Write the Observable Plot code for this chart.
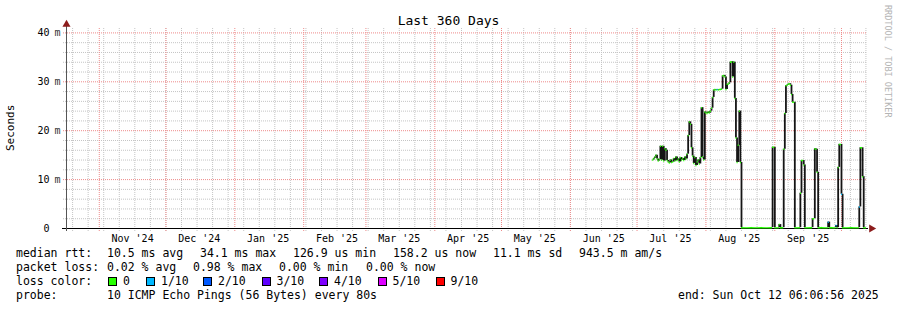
<!DOCTYPE html>
<html>
<head>
<meta charset="utf-8">
<script src="https://cdn.jsdelivr.net/npm/d3@7"></script>
<script src="https://cdn.jsdelivr.net/npm/@observablehq/plot@0.6"></script>
<style>
  html, body { margin: 0; padding: 0; background: #fff; }
  #wrap { position: relative; width: 897px; height: 310px; overflow: hidden;
          font-family: "DejaVu Sans Mono", monospace; color: #000; }
  #chart { position: absolute; left: 0; top: 0; }
  .t { position: absolute; white-space: pre; font-size: 11.5px; line-height: 11.5px; }
  .title { position: absolute; left: 0; width: 897px; text-align: center; font-size: 13px; line-height: 13px; white-space: pre; }
  .ylab { position: absolute; font-size: 11px; line-height: 11px; white-space: pre; transform-origin: 0 0; }
  .rrd { position: absolute; font-size: 8.5px; line-height: 8.5px; color: #b4b4b4; white-space: pre; transform-origin: 0 0; }
  .sw { position: absolute; width: 9px; height: 9px; box-sizing: border-box; border: 1px solid #000; }
</style>
</head>
<body>
<div id="wrap"><div id="chart"></div></div>
<script>
// ---------- data ----------
const titleText = "Last 360 Days";
const yLabel = "Seconds";
const sideText = "RRDTOOL / TOBI OETIKER";
const endTime = new Date("2025-10-12T06:06:56Z");
const spanDays = 360;
const seriesStart = "2025-07-08T00:00:00Z";
const stepHours = 12;

// median RTT in milliseconds, one value per 12 h step from seriesStart
const medianMs = [
  14.0,14.3,14.6,15.0,14.2,13.8,14.1,16.8,14.0,16.8,
  13.8,16.3,16.0,13.9,13.6,13.4,14.0,13.5,13.6,14.3,
  13.8,14.6,13.9,14.2,13.6,14.5,14.0,14.3,13.9,14.6,
  14.2,15.2,19.0,21.8,21.3,16.5,14.8,13.3,14.5,12.9,
  13.6,14.0,13.2,14.5,24.7,14.6,14.0,23.8,23.6,23.5,
  23.8,23.6,24.0,24.6,26.8,28.3,28.4,28.3,28.4,28.3,
  28.4,28.4,28.5,31.2,31.3,31.0,28.4,29.5,29.5,29.8,
  34.0,34.1,31.0,34.0,26.6,18.5,13.5,17.0,24.0,13.5,
  0.16,0.15,0.16,0.17,0.16,0.15,0.16,0.16,0.17,0.16,
  0.16,0.15,0.16,0.16,0.17,0.16,0.15,0.16,0.16,0.16,
  0.16,0.17,0.16,0.15,0.16,0.16,0.16,0.16,16.6,16.6,
  0.16,0.16,0.15,0.16,0.8,0.16,0.16,0.16,16.2,23.5,
  29.2,29.3,29.5,29.6,29.3,27.4,25.8,25.8,0.16,0.16,
  0.15,0.16,0.16,7.2,13.9,13.9,13.0,0.16,0.16,0.17,
  0.16,0.16,0.15,0.16,2.0,2.0,16.3,16.2,11.5,0.16,
  0.16,0.16,0.17,0.16,0.15,0.16,0.16,0.16,1.3,0.16,
  0.16,0.16,0.15,0.16,0.16,0.6,0.16,12.5,17.2,17.2,
  7.0,0.16,0.16,0.16,0.17,0.16,0.15,0.16,0.16,0.16,
  0.16,0.16,0.17,0.16,0.16,0.16,4.4,16.5,16.5,10.6,
  0.16,0.16,0.16
];
// steps with packet loss (index into medianMs, loss in tenths)
const lossIdx    = [58, 158, 165, 170, 186];
const lossTenths = [1, 1, 1, 1, 1];

const lossColors = ["#26ff00", "#00b8ff", "#0059ff", "#5e00ff", "#7e00ff", "#dd00ff", "#ff0000"];
const lossLabels = ["0", "1/10", "2/10", "3/10", "4/10", "5/10", "9/10"];

const yTicks = [0, 10, 20, 30, 40];
const yMax = 40.9;

const rttStats  = ["10.5 ms avg", "34.1 ms max", "126.9 us min", "158.2 us now", "11.1 ms sd", "943.5 m am/s"];
const lossStats = ["0.02 % avg", "0.98 % max", "0.00 % min", "0.00 % now"];
const probeText = "10 ICMP Echo Pings (56 Bytes) every 80s";
const endText = "end: Sun Oct 12 06:06:56 2025";

// ---------- build ----------
const start = new Date(+endTime - spanDays * 864e5);
const t0 = new Date(seriesStart);
const stepMs = stepHours * 36e5;
const pts = medianMs.map((v, i) => ({
  t: new Date(+t0 + i * stepMs),
  t2: new Date(Math.min(+t0 + (i + 1) * stepMs, +endTime)),
  v, loss: 0
}));
lossIdx.forEach((k, j) => { pts[k].loss = lossTenths[j]; });
pts.forEach(p => { p.color = lossColors[p.loss <= 5 ? p.loss : 6]; });
const verts = pts.slice(1).map((p, i) => ({ t: p.t, a: pts[i].v, b: p.v }));

const minorY = d3.range(2, 41, 2).filter(v => v % 10 !== 0);
const majorY = yTicks.filter(v => v > 0);
const weeks = d3.utcSunday.range(start, endTime);
const months = d3.utcMonth.range(start, endTime);
const labelDates = d3.utcMonth.range(d3.utcMonth.floor(start), endTime)
  .map(m => d3.utcDay.offset(m, 15))
  .filter(d => d > start && d < endTime);

const gridMinor = "#c4c4c4";
const gridMajor = "#ee8a8a";
const arrowCol = "#8c1c1c";

const chart = Plot.plot({
  width: 897, height: 310,
  marginTop: 28, marginBottom: 82, marginLeft: 66, marginRight: 31,
  x: { type: "utc", domain: [start, endTime] },
  y: { domain: [0, yMax] },
  color: { type: "identity" },
  style: { fontFamily: '"DejaVu Sans Mono", monospace', fontSize: "10px", background: "transparent", overflow: "visible", color: "#000" },
  marks: [
    Plot.ruleY(minorY, { stroke: gridMinor, strokeDasharray: "1,1", insetLeft: -3 }),
    Plot.ruleX(weeks, { stroke: gridMinor, strokeDasharray: "1,1", insetBottom: -3 }),
    Plot.ruleY(majorY, { stroke: gridMajor, strokeDasharray: "1,1", insetLeft: -3 }),
    Plot.ruleX(months, { stroke: gridMajor, strokeDasharray: "1,1", insetBottom: -3 }),
    Plot.axisY(yTicks, { tickSize: 0, tickPadding: 17, tickFormat: d => String(d), label: null, fontSize: 10 }),
    Plot.text(majorY, { y: d => d, text: () => "m", frameAnchor: "left", dx: -12, textAnchor: "start", fontSize: 10, fill: "#333" }),
    Plot.axisX(labelDates, { tickSize: 0, tickPadding: 6, tickFormat: d3.utcFormat("%b '%y"), label: null, fontSize: 10 }),
    // axis line under the data
    Plot.ruleY([0], { stroke: "#000", insetLeft: -4, insetRight: -2 }),
    // smoke / steps
    Plot.ruleX(verts, { x: "t", y1: "a", y2: "b", stroke: "#151515", strokeWidth: 1.8 }),
    // median, coloured by loss
    Plot.ruleY(pts, { y: "v", x1: "t", x2: "t2", stroke: "color", strokeWidth: 1.5 }),
    // y axis line and arrows
    Plot.ruleX([start], { stroke: "#555", insetTop: -3, insetBottom: -3 }),
    Plot.dot([start], { x: d => d, y: () => yMax, symbol: "triangle", r: 3, fill: arrowCol, stroke: "none", dy: -4 }),
    Plot.dot([endTime], { x: d => d, y: () => 0, symbol: "triangle", r: 3, fill: arrowCol, stroke: "none", rotate: 90, dx: 5 })
  ]
});
document.getElementById("chart").appendChild(chart);

// ---------- text overlays ----------
const wrap = document.getElementById("wrap");
function addText(cls, txt, left, top, extra) {
  const d = document.createElement("div");
  d.className = cls;
  d.textContent = txt;
  d.style.left = left + "px";
  d.style.top = top + "px";
  if (extra) Object.assign(d.style, extra);
  wrap.appendChild(d);
  return d;
}
addText("title", titleText, 0, 13.5, { left: "0px" });
addText("ylab", yLabel, 5, 151, { transform: "rotate(-90deg)" });
addText("rrd", sideText, 892, 5, { transform: "rotate(90deg)" });

const rowTop = b => b - 9.7;
addText("t", "median rtt:", 16, rowTop(258));
const rttX = [107, 200, 293, 393, 493, 579];
rttStats.forEach((s, i) => addText("t", s, rttX[i], rowTop(258)));
addText("t", "packet loss:", 16, rowTop(272));
const lossX = [107, 193, 279, 366];
lossStats.forEach((s, i) => addText("t", s, lossX[i], rowTop(272)));
addText("t", "loss color:", 16, rowTop(286));
const swX = [108, 146, 203, 261.5, 319, 377.5, 435.5];
lossColors.forEach((c, i) => {
  const s = document.createElement("div");
  s.className = "sw";
  s.style.left = swX[i] + "px";
  s.style.top = "277px";
  s.style.background = c;
  wrap.appendChild(s);
  addText("t", lossLabels[i], swX[i] + 15, rowTop(286));
});
addText("t", "probe:", 16, rowTop(300));
addText("t", probeText, 107, rowTop(300));
addText("t", endText, 678, rowTop(300));
</script>
</body>
</html>
